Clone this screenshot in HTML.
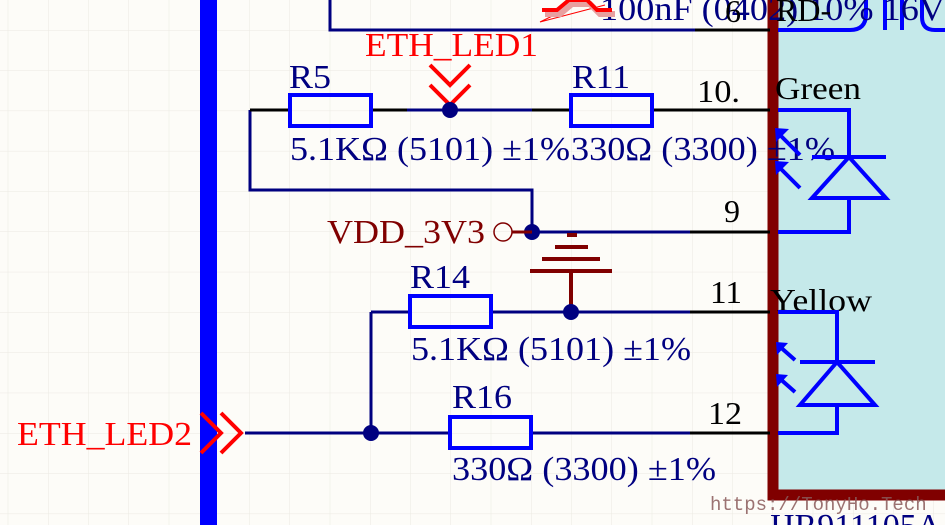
<!DOCTYPE html>
<html><head><meta charset="utf-8"><style>
html,body{margin:0;padding:0;background:#fdfcf8;}
svg{display:block;}
text{font-family:"Liberation Serif",serif;}
</style></head><body>
<svg width="945" height="525" viewBox="0 0 945 525" xmlns="http://www.w3.org/2000/svg">
<defs>
<pattern id="g" x="48" y="30" width="40.25" height="40.3" patternUnits="userSpaceOnUse">
<path d="M0 0H40.25M0 0V40.3" stroke="#ebe9e2" stroke-width="1" fill="none"/>
</pattern>
</defs>
<rect width="945" height="525" fill="#fdfcf8"/>
<rect width="945" height="525" fill="url(#g)"/>

<!-- component body -->
<rect x="773" y="-10" width="200" height="505" fill="#c5e9ea" stroke="#800000" stroke-width="11"/>
<g stroke="#0000ff" stroke-width="4" fill="none">
<path d="M778 30H850Q866 30 866 14V0"/>
<path d="M885 0V30M902 0V30"/>
<path d="M945 30H935Q922 30 922 17V0"/>
</g>
<text x="600" y="20" font-size="34" fill="#000080" textLength="345" lengthAdjust="spacingAndGlyphs">100nF (0402) 10% 16V</text>
<text x="725" y="22" font-size="32" fill="#000">6</text>
<text x="776" y="21" font-size="32" fill="#000">RD-</text>

<!-- bus bar -->
<rect x="200" y="0" width="17" height="525" fill="#0000ff"/>

<!-- top wire -->
<path d="M330 0V30H695" stroke="#000080" stroke-width="3" fill="none"/>
<path d="M695 30H770" stroke="#000" stroke-width="3"/>
<path d="M540 22L585 0M540 22L605 5" stroke="#ff0000" stroke-width="1" fill="none"/>
<path d="M545 14H560L572 4H590L600 14H615" stroke="#e8a0a0" stroke-width="6" fill="none"/>
<path d="M542 10H557L569 0H587L597 10H612" stroke="#ff0000" stroke-width="4" fill="none"/>

<!-- ETH_LED1 -->
<text x="365" y="56" font-size="34" fill="#ff0000" textLength="173" lengthAdjust="spacingAndGlyphs">ETH_LED1</text>
<path d="M430 65L450 85L470 65M430 85L450 105L470 85" stroke="#ff0000" stroke-width="4" fill="none"/>

<!-- row 110 -->
<path d="M407 110H532M250 110V190H532V232H690" stroke="#000080" stroke-width="3" fill="none"/>
<path d="M250 110H290M371 110H407M532 110H570M652 110H770M690 232H770" stroke="#000" stroke-width="3" fill="none"/>
<rect x="290" y="95" width="81" height="31" fill="none" stroke="#0000ff" stroke-width="4"/>
<rect x="571" y="95" width="81" height="31" fill="none" stroke="#0000ff" stroke-width="4"/>
<circle cx="450" cy="110" r="8" fill="#000080"/>
<circle cx="532" cy="232" r="8" fill="#000080"/>
<text x="289" y="88" font-size="34" fill="#000080" textLength="42" lengthAdjust="spacingAndGlyphs">R5</text>
<text x="290" y="160" font-size="34" fill="#000080" textLength="280" lengthAdjust="spacingAndGlyphs">5.1KΩ (5101) ±1%</text>
<text x="572" y="88" font-size="34" fill="#000080" textLength="58" lengthAdjust="spacingAndGlyphs">R11</text>
<text x="571" y="160" font-size="34" fill="#000080" textLength="264" lengthAdjust="spacingAndGlyphs">330Ω (3300) ±1%</text>
<text x="697" y="102" font-size="32" fill="#000" textLength="43" lengthAdjust="spacingAndGlyphs">10.</text>
<text x="775" y="99" font-size="32" fill="#000" textLength="86" lengthAdjust="spacingAndGlyphs">Green</text>
<text x="724" y="222" font-size="32" fill="#000">9</text>

<!-- VDD -->
<text x="327" y="243" font-size="34" fill="#800000" textLength="158" lengthAdjust="spacingAndGlyphs">VDD_3V3</text>
<circle cx="503" cy="232" r="9" fill="none" stroke="#800000" stroke-width="1.5"/>
<path d="M512 232H532" stroke="#800000" stroke-width="3"/>
<g stroke="#800000" stroke-width="4">
<path d="M571 271V312"/>
<path d="M530 271H612M542 259H600M555 247H588M567 235H577"/>
</g>

<!-- row 312 -->
<path d="M371 312V433M371 312H410M491 312H690M245 433H450M531 433H690" stroke="#000080" stroke-width="3" fill="none"/>
<path d="M690 312H770M690 433H770" stroke="#000" stroke-width="3"/>
<rect x="410" y="296" width="81" height="31" fill="none" stroke="#0000ff" stroke-width="4"/>
<rect x="450" y="417" width="81" height="31" fill="none" stroke="#0000ff" stroke-width="4"/>
<circle cx="571" cy="312" r="8" fill="#000080"/>
<circle cx="371" cy="433" r="8" fill="#000080"/>
<text x="410" y="288" font-size="34" fill="#000080" textLength="60" lengthAdjust="spacingAndGlyphs">R14</text>
<text x="411" y="360" font-size="34" fill="#000080" textLength="280" lengthAdjust="spacingAndGlyphs">5.1KΩ (5101) ±1%</text>
<text x="452" y="408" font-size="34" fill="#000080" textLength="60" lengthAdjust="spacingAndGlyphs">R16</text>
<text x="452" y="480" font-size="34" fill="#000080" textLength="264" lengthAdjust="spacingAndGlyphs">330Ω (3300) ±1%</text>
<text x="710" y="303" font-size="32" fill="#000" textLength="32" lengthAdjust="spacingAndGlyphs">11</text>
<text x="708" y="424" font-size="32" fill="#000" textLength="34" lengthAdjust="spacingAndGlyphs">12</text>
<text x="770" y="311" font-size="32" fill="#000" textLength="102" lengthAdjust="spacingAndGlyphs">Yellow</text>

<!-- ETH_LED2 -->
<text x="17" y="445" font-size="34" fill="#ff0000" textLength="175" lengthAdjust="spacingAndGlyphs">ETH_LED2</text>
<path d="M201 413L221 433L201 453M221 413L241 433L221 453" stroke="#ff0000" stroke-width="4" fill="none"/>

<!-- LEDs -->
<g stroke="#0000ff" stroke-width="4" fill="none">
<path d="M778 110H849V157M812 157H886M849 157L812 198H886Z M849 198V232H778"/>
<path d="M800 155L778 133M800 188L778 166"/>
<path d="M778 312H837V362M800 362H875M837 362L800 405H875Z M837 405V433H778"/>
<path d="M795 360L778 345M795 392L778 377"/>
</g>
<g fill="#0000ff">
<path d="M775 128L789 129L776 142Z"/>
<path d="M775 161L789 162L776 175Z"/>
<path d="M776 342L788 343L777 355Z"/>
<path d="M776 374L788 375L777 387Z"/>
</g>

<text x="770" y="537" font-size="34" fill="#000080">HR911105A</text>
<text x="710" y="510" font-size="19" fill="#8a5a5a" style="font-family:'Liberation Mono',monospace" opacity="0.85">https://TonyHo.Tech</text>
</svg>
</body></html>
